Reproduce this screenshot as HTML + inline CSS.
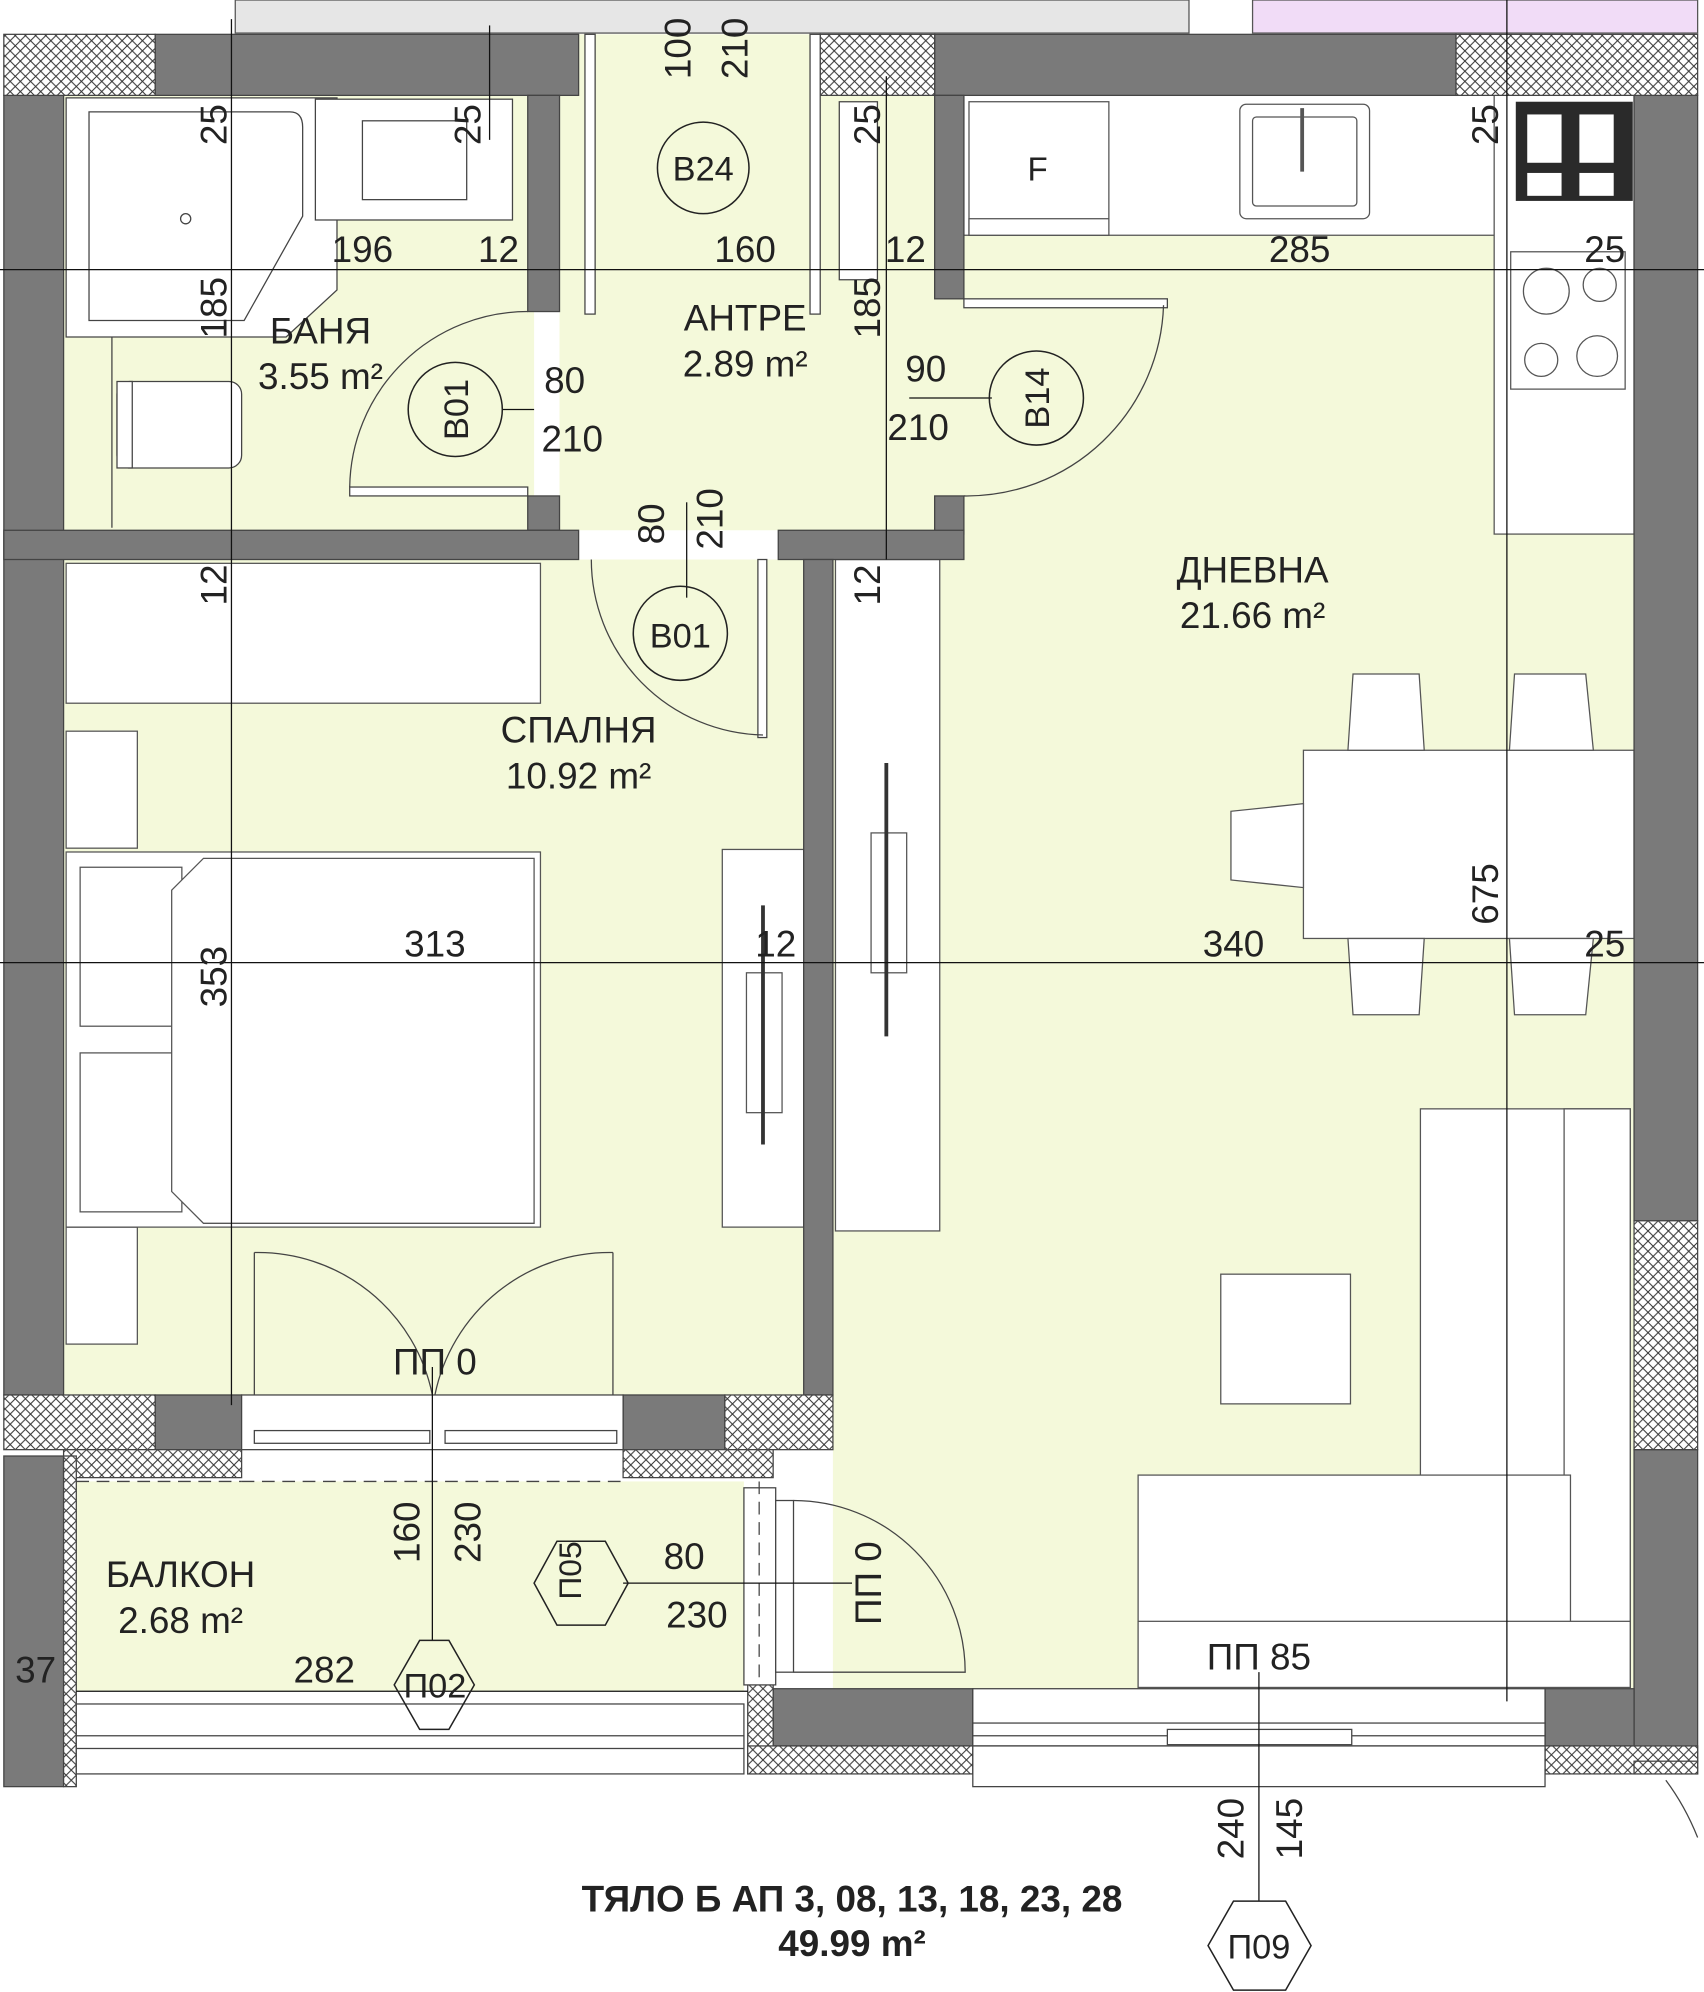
<!DOCTYPE html>
<html><head><meta charset="utf-8"><style>
html,body{margin:0;padding:0;background:#fff}
svg{display:block}
text{font-family:"Liberation Sans",sans-serif;fill:#222}
</style></head><body>
<svg width="1704" height="1992" viewBox="0 0 1340 1566.5" xmlns="http://www.w3.org/2000/svg">
<defs>
<pattern id="h" width="8" height="8" patternUnits="userSpaceOnUse">
<rect width="8" height="8" fill="#fff"/>
<path d="M0,0L8,8M8,0L0,8" stroke="#333" stroke-width="0.8"/>
</pattern>
</defs>
<g stroke="#555" stroke-width="1">
<rect x="185" y="0" width="750" height="26" fill="#e6e6e6"/>
<rect x="985" y="0" width="350" height="26" fill="#f1dcf7"/>
</g>
<g fill="#f4f9da">
<rect x="50" y="75" width="370" height="342"/>
<rect x="440" y="27" width="298" height="390"/>
<rect x="50" y="440" width="585" height="658"/>
<rect x="655" y="185" width="630" height="1145"/>
<rect x="735" y="185" width="550" height="240"/>
<rect x="60" y="1165" width="525" height="165"/>
</g>
<g fill="#fff" stroke="#555" stroke-width="1">
<rect x="758" y="75" width="427" height="110"/>
<rect x="1175" y="75" width="110" height="345"/>
<rect x="762" y="80" width="110" height="105"/>
<rect x="762" y="172" width="110" height="13"/>
<rect x="975" y="82" width="102" height="90" rx="5"/>
<rect x="985" y="92" width="82" height="70" rx="3"/>
<rect x="1188" y="198" width="90" height="108"/>
<circle cx="1216" cy="229" r="18"/><circle cx="1258" cy="224" r="13"/>
<circle cx="1212" cy="283" r="13"/><circle cx="1256" cy="280" r="16"/>
</g>
<rect x="1192" y="80" width="92" height="78" fill="#2a2a2a"/>
<g fill="#fff"><rect x="1201" y="90" width="27" height="38"/><rect x="1242" y="90" width="27" height="38"/><rect x="1201" y="136" width="27" height="18"/><rect x="1242" y="136" width="27" height="18"/></g>
<line x1="1024" y1="85" x2="1024" y2="135" stroke="#555" stroke-width="3"/>
<text x="816" y="142" font-size="26" text-anchor="middle">F</text>
<g fill="#fff" stroke="#444" stroke-width="1">
<path d="M52,77H265V228L225,265H52Z"/>
<path d="M70,88H228Q238,88 238,100V170L192,252H70Z"/>
<rect x="248" y="78" width="155" height="95"/>
<rect x="285" y="95" width="82" height="62"/>
<rect x="92" y="300" width="98" height="68" rx="10"/>
<rect x="92" y="300" width="12" height="68"/>
<circle cx="146" cy="172" r="4"/>
</g>
<line x1="88" y1="265" x2="88" y2="415" stroke="#444"/>
<g fill="#fff" stroke="#555" stroke-width="1">
<rect x="52" y="443" width="373" height="110"/>
<rect x="52" y="575" width="56" height="92"/>
<rect x="52" y="965" width="56" height="92"/>
<rect x="52" y="670" width="373" height="295"/>
<rect x="63" y="682" width="80" height="125"/>
<rect x="63" y="828" width="80" height="125"/>
<path d="M135,700L160,675H420V962H160L135,937Z"/>
<rect x="568" y="668" width="64" height="297"/>
<rect x="657" y="440" width="82" height="528"/>
<rect x="685" y="655" width="28" height="110"/>
<rect x="587" y="765" width="28" height="110"/>
</g>
<line x1="697" y1="600" x2="697" y2="815" stroke="#333" stroke-width="3"/>
<line x1="600" y1="712" x2="600" y2="900" stroke="#333" stroke-width="3"/>
<g fill="#fff" stroke="#555" stroke-width="1">
<rect x="1025" y="590" width="260" height="148"/>
<path d="M1060,590L1064,530H1116L1120,590Z"/><path d="M1187,590L1191,530H1247L1253,590Z"/>
<path d="M1060,738L1064,798H1116L1120,738Z"/><path d="M1187,738L1191,798H1247L1253,738Z"/>
<path d="M1025,632L968,638V692L1025,698Z"/>
<rect x="1117" y="872" width="165" height="455"/>
<rect x="1230" y="872" width="52" height="455"/>
<rect x="895" y="1160" width="340" height="167"/>
<rect x="895" y="1275" width="387" height="52"/>
<rect x="960" y="1002" width="102" height="102"/>
</g>
<g fill="#7a7a7a" stroke="#444" stroke-width="1">
<rect x="122" y="27" width="333" height="48"/>
<rect x="735" y="27" width="410" height="48"/>
<rect x="3" y="75" width="47" height="1022"/>
<rect x="1285" y="75" width="50" height="885"/>
<rect x="1285" y="1140" width="50" height="245"/>
<rect x="415" y="75" width="25" height="170"/>
<rect x="415" y="390" width="25" height="27"/>
<rect x="735" y="75" width="23" height="160"/>
<rect x="735" y="390" width="23" height="30"/>
<rect x="3" y="417" width="452" height="23"/>
<rect x="612" y="417" width="146" height="23"/>
<rect x="632" y="440" width="23" height="657"/>
<rect x="122" y="1097" width="68" height="43"/>
<rect x="490" y="1097" width="80" height="43"/>
<rect x="3" y="1145" width="47" height="260"/>
<rect x="608" y="1328" width="157" height="45"/>
<rect x="1215" y="1328" width="70" height="45"/>
</g>
<g fill="url(#h)" stroke="#444" stroke-width="1">
<rect x="3" y="27" width="119" height="48"/>
<rect x="645" y="27" width="90" height="48"/>
<rect x="1145" y="27" width="190" height="48"/>
<rect x="1285" y="960" width="50" height="180"/>
<rect x="3" y="1097" width="119" height="43"/>
<rect x="570" y="1097" width="85" height="43"/>
<rect x="50" y="1140" width="140" height="22"/>
<rect x="490" y="1140" width="118" height="22"/>
<rect x="588" y="1325" width="20" height="70"/>
<rect x="588" y="1373" width="177" height="22"/>
<rect x="1215" y="1373" width="120" height="22"/>
<rect x="1285" y="1385" width="50" height="10"/>
<rect x="50" y="1145" width="10" height="260"/>
</g>
<g fill="#fff" stroke="#444" stroke-width="1">
<rect x="190" y="1097" width="300" height="43"/>
<rect x="200" y="1125" width="138" height="10"/><rect x="350" y="1125" width="135" height="10"/>
<rect x="765" y="1328" width="450" height="45"/>
<rect x="765" y="1355" width="450" height="10"/>
<rect x="918" y="1360" width="145" height="12"/>
<rect x="765" y="1373" width="450" height="32"/>
<rect x="60" y="1340" width="525" height="55"/>
<rect x="60" y="1365" width="525" height="10"/>
<rect x="585" y="1170" width="25" height="155"/>
<rect x="610" y="1180" width="14" height="135"/>
</g>
<line x1="190" y1="1165" x2="490" y2="1165" stroke="#444" stroke-dasharray="10,6"/>
<line x1="60" y1="1165" x2="190" y2="1165" stroke="#444" stroke-dasharray="10,6"/>
<line x1="597" y1="1165" x2="597" y2="1320" stroke="#444" stroke-dasharray="10,6"/>
<path d="M1310,1400Q1325,1420 1335,1445" fill="none" stroke="#444"/>
<g fill="none" stroke="#444" stroke-width="1">
<rect x="460" y="27" width="8" height="220" fill="#fff"/>
<rect x="637" y="27" width="8" height="220" fill="#fff"/>
<rect x="275" y="383" width="140" height="7" fill="#fff"/>
<path d="M275,383A140,140 0 0 1 415,245"/>
<rect x="596" y="440" width="7" height="140" fill="#fff"/>
<path d="M465,440A138,138 0 0 0 600,578"/>
<rect x="758" y="235" width="160" height="7" fill="#fff"/>
<path d="M758,390A155,155 0 0 0 915,240"/>
<path d="M200,985V1097M200,985A140,140 0 0 1 340,1097"/>
<path d="M482,985V1097M482,985A140,140 0 0 0 342,1097"/>
<path d="M624,1180A135,135 0 0 1 759,1315H624"/>
<path d="M660,80V220H690V80Z" fill="#fff"/>
</g>
<g stroke="#111" stroke-width="1">
<line x1="0" y1="212" x2="1340" y2="212"/>
<line x1="0" y1="757" x2="1340" y2="757"/>
<line x1="182" y1="15" x2="182" y2="1105"/>
<line x1="385" y1="20" x2="385" y2="110"/>
<line x1="697" y1="60" x2="697" y2="440"/>
<line x1="1185" y1="0" x2="1185" y2="1338"/>
<line x1="340" y1="1075" x2="340" y2="1290"/>
<line x1="540" y1="395" x2="540" y2="470"/>
<line x1="990" y1="1315" x2="990" y2="1495"/>
<line x1="60" y1="1330" x2="588" y2="1330"/>
<line x1="395" y1="322" x2="420" y2="322"/>
<line x1="715" y1="313" x2="780" y2="313"/>
<line x1="490" y1="1245" x2="670" y2="1245"/>
</g>
<g fill="none" stroke="#222" stroke-width="1.2">
<circle cx="553" cy="132" r="36"/>
<circle cx="358" cy="322" r="37"/>
<circle cx="815" cy="313" r="37"/>
<circle cx="535" cy="498" r="37"/>
<path d="M310,1325L330,1290L353,1290L373,1325L353,1360L330,1360Z"/>
<path d="M420,1245L438,1212H476L494,1245L476,1278H438Z"/>
<path d="M950,1530L970,1495H1011L1031,1530L1011,1565H970Z"/>
</g>
<g font-size="29">
<text x="553" y="142" text-anchor="middle" font-size="27">B24</text>
<text transform="translate(368,322) rotate(-90)" text-anchor="middle" font-size="27">B01</text>
<text transform="translate(825,313) rotate(-90)" text-anchor="middle" font-size="27">B14</text>
<text x="535" y="509" text-anchor="middle" font-size="27">B01</text>
<text x="342" y="1335" text-anchor="middle" font-size="27">П02</text>
<text x="467" y="1245" text-anchor="middle" font-size="25" transform="rotate(-90 457 1245)">П05</text>
<text x="990" y="1540" text-anchor="middle" font-size="27">П09</text>
<text x="252" y="270" text-anchor="middle">БАНЯ</text>
<text x="252" y="306" text-anchor="middle">3.55 m²</text>
<text x="586" y="260" text-anchor="middle">АНТРЕ</text>
<text x="586" y="296" text-anchor="middle">2.89 m²</text>
<text x="985" y="458" text-anchor="middle">ДНЕВНА</text>
<text x="985" y="494" text-anchor="middle">21.66 m²</text>
<text x="455" y="584" text-anchor="middle">СПАЛНЯ</text>
<text x="455" y="620" text-anchor="middle">10.92 m²</text>
<text x="142" y="1248" text-anchor="middle">БАЛКОН</text>
<text x="142" y="1284" text-anchor="middle">2.68 m²</text>
<text x="285" y="206" text-anchor="middle">196</text>
<text x="392" y="206" text-anchor="middle">12</text>
<text x="586" y="206" text-anchor="middle">160</text>
<text x="712" y="206" text-anchor="middle">12</text>
<text x="1022" y="206" text-anchor="middle">285</text>
<text x="1262" y="206" text-anchor="middle">25</text>
<text x="342" y="752" text-anchor="middle">313</text>
<text x="610" y="752" text-anchor="middle">12</text>
<text x="970" y="752" text-anchor="middle">340</text>
<text x="1262" y="752" text-anchor="middle">25</text>
<text x="444" y="309" text-anchor="middle">80</text>
<text x="450" y="355" text-anchor="middle">210</text>
<text x="728" y="300" text-anchor="middle">90</text>
<text x="722" y="346" text-anchor="middle">210</text>
<text x="538" y="1234" text-anchor="middle">80</text>
<text x="548" y="1280" text-anchor="middle">230</text>
<text x="342" y="1081" text-anchor="middle">ПП 0</text>
<text x="990" y="1313" text-anchor="middle">ПП 85</text>
<text x="255" y="1323" text-anchor="middle">282</text>
<text x="28" y="1323" text-anchor="middle">37</text>
<g text-anchor="middle">
<text transform="translate(178,98) rotate(-90)">25</text>
<text transform="translate(378,98) rotate(-90)">25</text>
<text transform="translate(692,98) rotate(-90)">25</text>
<text transform="translate(1178,98) rotate(-90)">25</text>
<text transform="translate(178,242) rotate(-90)">185</text>
<text transform="translate(692,242) rotate(-90)">185</text>
<text transform="translate(178,460) rotate(-90)">12</text>
<text transform="translate(692,460) rotate(-90)">12</text>
<text transform="translate(178,768) rotate(-90)">353</text>
<text transform="translate(1178,703) rotate(-90)">675</text>
<text transform="translate(543,38) rotate(-90)">100</text>
<text transform="translate(588,38) rotate(-90)">210</text>
<text transform="translate(522,412) rotate(-90)">80</text>
<text transform="translate(568,408) rotate(-90)">210</text>
<text transform="translate(330,1205) rotate(-90)">160</text>
<text transform="translate(378,1205) rotate(-90)">230</text>
<text transform="translate(693,1245) rotate(-90)">ПП 0</text>
<text transform="translate(978,1438) rotate(-90)">240</text>
<text transform="translate(1024,1438) rotate(-90)">145</text>
</g>
<text x="670" y="1503" text-anchor="middle" font-weight="bold" font-size="29" fill="#333">ТЯЛО Б АП 3, 08, 13, 18, 23, 28</text>
<text x="670" y="1538" text-anchor="middle" font-weight="bold" font-size="29" fill="#333">49.99 m²</text>
</g>
</svg>
</body></html>
